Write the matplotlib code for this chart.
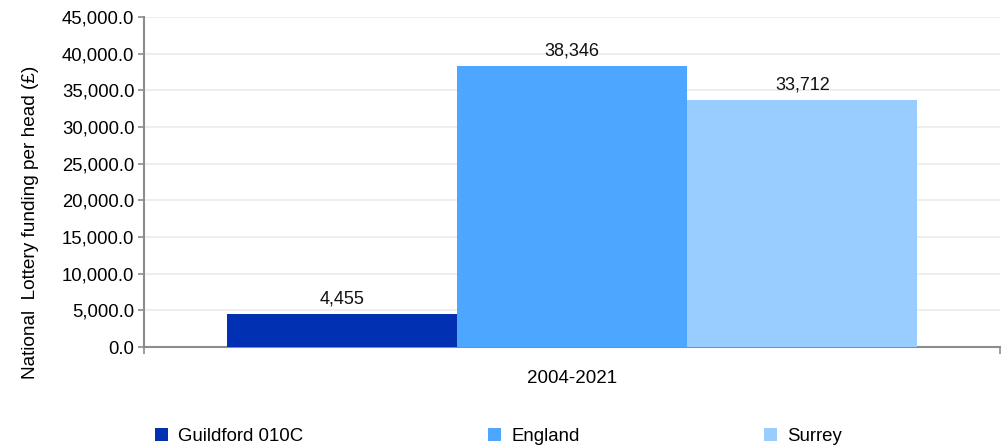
import matplotlib.pyplot as plt
from matplotlib.ticker import FuncFormatter

# data
period = '2004-2021'
areas = ['Guildford 010C', 'England', 'Surrey']
funding = [4455, 38346, 33712]
colours = ['#0230b2', '#4da6ff', '#99ccff']

plt.rcParams['font.family'] = ['Liberation Sans', 'DejaVu Sans']

fig = plt.figure(figsize=(10.07, 4.48), dpi=100)
ax = fig.add_axes([0.143, 0.2254, 0.850, 0.7366])

bar_w = 0.269
offsets = [-bar_w, 0, bar_w]
bars = []
for name, val, col, off in zip(areas, funding, colours, offsets):
    b = ax.bar(off, val, width=bar_w, color=col, label=name, zorder=3)
    bars.append(b)
    ax.text(off, val + 900, f'{val:,}', ha='center', va='bottom', fontsize=13, color='#111111')

ax.set_xlim(-0.5, 0.5)
ax.set_ylim(0, 45000)
ax.set_yticks(range(0, 45001, 5000))
ax.yaxis.set_major_formatter(FuncFormatter(lambda v, p: f'{v:,.1f}'))
ax.set_xticks([-0.5, 0.5])
ax.set_xticklabels(['', ''])
ax.text(0, -0.07, period, transform=ax.get_xaxis_transform(), ha='center', va='top', fontsize=13.5)

ax.grid(axis='y', color='#ebebeb', linewidth=1.2, zorder=0)
for s in ['top', 'right']:
    ax.spines[s].set_visible(False)
for s in ['left', 'bottom']:
    ax.spines[s].set_color('#8c8c8c')
    ax.spines[s].set_linewidth(1.5)
ax.tick_params(axis='y', length=4, color='#8c8c8c', width=1.2, labelsize=13.3, pad=3)
ax.tick_params(axis='x', length=5, color='#8c8c8c', width=1.2)
ax.set_ylabel('National  Lottery funding per head (£)', fontsize=13.7)
ax.yaxis.set_label_coords(-0.123, 0.379)

# legend entries spread along the bottom
legend_x = [0.154, 0.485, 0.759]
for b, name, lx in zip(bars, areas, legend_x):
    fig.legend([b], [name], loc='center left', bbox_to_anchor=(lx, 0.025), frameon=False,
               fontsize=13.4, handlelength=0.7, handleheight=0.7, handletextpad=0.55,
               borderaxespad=0, borderpad=0)

fig.savefig('out.png', dpi=100)
